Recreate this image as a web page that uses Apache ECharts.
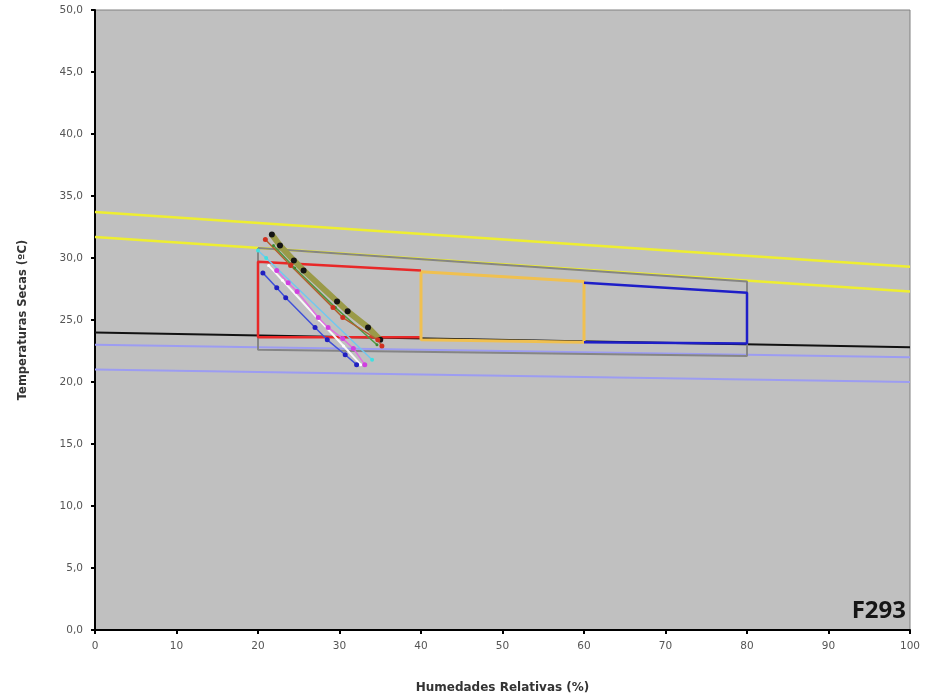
<!DOCTYPE html>
<html>
<head>
<meta charset="utf-8">
<script src="https://cdn.jsdelivr.net/npm/echarts@6/dist/echarts.min.js"></script>
<style>html,body{margin:0;padding:0;background:#fff}#c{width:928px;height:693px}</style>
</head>
<body>
<div id="c"></div>
<script>
// ---- data ----
const xTicks = [0,10,20,30,40,50,60,70,80,90,100];
const yTicks = [0,5,10,15,20,25,30,35,40,45,50];
const yellowUpper = [[0,33.7],[100,29.3]];
const yellowLower = [[0,31.7],[100,27.3]];
const blackLine = [[0,24.0],[100,22.8]];
const lavenderUpper = [[0,23.0],[100,22.0]];
const lavenderLower = [[0,21.0],[100,20.0]];
const grayZone = [[20,30.8],[80,28.1],[80,22.1],[20,22.6],[20,30.8]];
const redBox = [[40,29.0],[20,29.7],[20,23.6],[40,23.6]];
const goldBox = [[40,28.9],[60,28.1],[60,23.2],[40,23.4],[40,28.9]];
const blueBox = [[60,28.0],[80,27.2],[80,23.1],[60,23.2]];
const diagBlue = [[20.6,28.8],[22.3,27.6],[23.4,26.8],[27.0,24.4],[28.5,23.4],[30.7,22.2],[32.1,21.4]];
const diagWhite = [[21.3,29.4],[23.0,28.2],[27.5,25.0],[30.5,22.9],[32.6,21.4]];
const diagMagenta = [[22.3,29.0],[23.7,28.0],[24.8,27.3],[27.4,25.2],[28.6,24.4],[30.4,23.5],[31.7,22.7],[33.1,21.4]];
const diagCyan = [[20.0,30.6],[21.0,30.0],[34.0,21.8]];
const diagOlive = [[21.7,31.9],[22.7,31.0],[24.4,29.8],[25.6,29.0],[29.7,26.5],[31.0,25.7],[33.5,24.4],[35.0,23.4]];
const diagGreen = [[21.9,31.0],[24.5,29.2],[29.5,26.0],[34.6,23.0]];
const diagBrown = [[20.9,31.5],[24.0,29.4],[29.2,26.0],[30.4,25.2],[34.7,23.4],[35.2,22.9]];
const xName = 'Humedades Relativas (%)';
const yName = 'Temperaturas Secas (ºC)';
const tag = 'F293';

const chart = echarts.init(document.getElementById('c'), null, {renderer:'canvas'});
function line(data, color, width, extra) {
  return Object.assign({
    type:'line', data:data, showSymbol:false, symbol:'none', silent:true,
    lineStyle:{color:color, width:width}, animation:false
  }, extra||{});
}
function mline(data, color, width, mcolor, size, z) {
  return {
    type:'line', data:data, symbol:'circle', symbolSize:size, showSymbol:true, silent:true,
    lineStyle:{color:color, width:width}, itemStyle:{color:mcolor, borderWidth:0}, z:z, animation:false
  };
}
const font = '"DejaVu Sans", sans-serif';
chart.setOption({
  animation:false,
  grid:{left:95, right:18, top:10, bottom:63, containLabel:false, outerBoundsMode:'none',
    show:true, backgroundColor:'#C0C0C0', borderColor:'#808080', borderWidth:1},
  xAxis:{type:'value', min:0, max:100, interval:10,
    name:xName, nameLocation:'middle', nameGap:52,
    nameTextStyle:{fontFamily:font, fontWeight:'bold', fontSize:12, color:'#333'},
    axisLine:{show:true, onZero:false, lineStyle:{color:'#000', width:2}},
    axisTick:{show:true, inside:false, length:4, lineStyle:{color:'#000', width:2}},
    axisLabel:{fontFamily:font, fontSize:10.5, color:'#555', margin:11},
    splitLine:{show:false}},
  yAxis:{type:'value', min:0, max:50, interval:5,
    name:yName, nameLocation:'middle', nameGap:66, nameRotate:90,
    nameTextStyle:{fontFamily:font, fontWeight:'bold', fontSize:11.5, color:'#333'},
    axisLine:{show:true, onZero:false, lineStyle:{color:'#000', width:2}},
    axisTick:{show:true, inside:false, length:4, lineStyle:{color:'#000', width:2}},
    axisLabel:{fontFamily:font, fontSize:10.5, color:'#555', margin:12,
      formatter:function(v){return v.toFixed(1).replace('.',',');}},
    splitLine:{show:false}},
  graphic:[{type:'text', right:22, bottom:70, z:100,
    style:{text:tag, font:'bold 24px "Noto Sans", sans-serif', fill:'#151515'}}],
  series:[
    line(yellowUpper,'#EEEE30',2.5,{z:2}),
    line(yellowLower,'#EEEE30',2.5,{z:2}),
    line(lavenderUpper,'#9C9CF2',2,{z:2}),
    line(lavenderLower,'#9C9CF2',2,{z:2}),
    line(blackLine,'#111111',2,{z:3}),
    line(grayZone,'#858585',2,{z:3}),
    line(redBox,'#E82828',2.5,{z:4}),
    line(goldBox,'#F0C050',3,{z:4}),
    line(blueBox,'#1E1EC8',2.5,{z:4}),
    mline(diagCyan,'#70C8F0',1.5,'#40E0E0',4,5),
    mline(diagWhite,'#F8F8F8',2,'#FFFFFF',3,5),
    mline(diagBlue,'#4050D8',1.5,'#2020C0',5,6),
    mline(diagMagenta,'#E070E0',1.5,'#D040E0',5,6),
    mline(diagOlive,'#9A9A48',6,'#151515',6,7),
    mline(diagGreen,'#4E9A40',1.5,'#3A8A30',3,8),
    mline(diagBrown,'#B06030',1.5,'#D03020',5,8)
  ]
});
</script>
</body>
</html>
